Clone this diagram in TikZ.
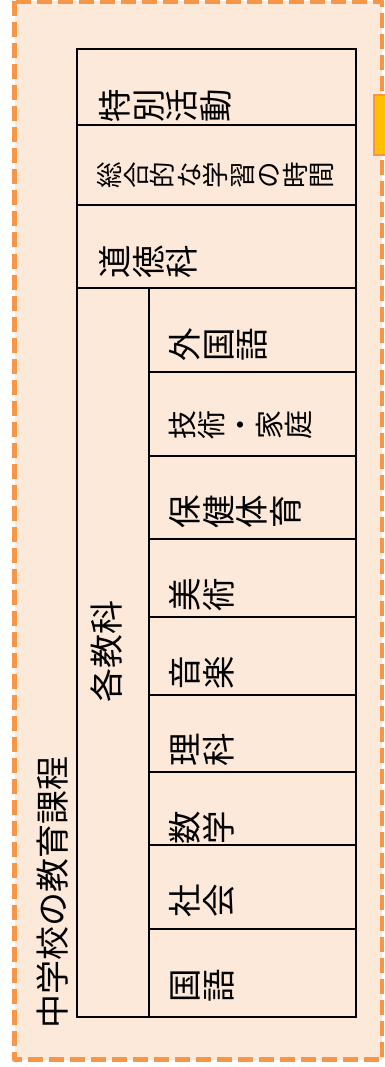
\documentclass[tikz,border=0pt]{standalone}
\usepackage{fontspec}
\usepackage{graphicx}
\newfontfamily\jp{Noto Sans CJK JP}
\definecolor{peach}{HTML}{FDE9D9}
\definecolor{dashorange}{HTML}{F79646}
\definecolor{tabyellow}{HTML}{FFC000}
\newcommand\rotglyph[1]{\rotatebox{90}{\rule[-0.12em]{0pt}{1em}#1}}
\def\rotrow#1{\rotrowA#1\relax}
\def\rotrowA#1{\ifx\relax#1\else\rotglyph{#1}\expandafter\rotrowA\fi}
\tikzset{
  tabline/.style={line width=1.7pt, black},
  lbl/.style={inner sep=0pt, anchor=west, font=\jp\fontsize{33.5}{33.5}\selectfont},
  vlbl/.style={inner sep=0pt, rotate=90, font=\jp\fontsize{34}{34}\selectfont},
}
\begin{document}
\begin{tikzpicture}[x=1pt,y=-1pt]
\useasboundingbox (0,0) rectangle (385,1067);
% outer dashed panel
\fill[peach] (14.5,1.5) rectangle (382,1059.5);
\draw[dashorange, line width=4.5pt, dash pattern=on 15pt off 6pt, line join=round] (14.5,1.5) rectangle (382,1059.5);
% small tab at right
\draw[fill=tabyellow, draw=dashorange, line width=2pt] (374,95) rectangle (400,155);
% table
\draw[tabline] (77,49) rectangle (356,1017);
\foreach \yy in {125,205,288} \draw[tabline] (77,\yy) -- (356,\yy);
\draw[tabline] (149,288) -- (149,1017);
\foreach \yy in {372,456,539,617,695,772,845,929} \draw[tabline] (149,\yy) -- (356,\yy);
% labels
\node[lbl] (tokubetsu) at (98,106) {\rotrow{特別活動}};
\node[lbl, font=\jp\fontsize{26.5}{26.5}\selectfont] (sogo) at (96,175) {\rotrow{総合的な学習の時間}};
\node[lbl] (dotoku) at (98,262) {\rotrow{道徳科}};
\node[lbl] (gaikoku) at (168,345) {\rotrow{外国語}};
\node[lbl, font=\jp\fontsize{29}{29}\selectfont] (gijutsu) at (168,425) {\rotrow{技術・家庭}};
\node[lbl] (hoken) at (168,512) {\rotrow{保健体育}};
\node[lbl] (bijutsu) at (168,595) {\rotrow{美術}};
\node[lbl] (ongaku) at (168,673) {\rotrow{音楽}};
\node[lbl] (rika) at (168,750) {\rotrow{理科}};
\node[lbl] (sugaku) at (168,828) {\rotrow{数学}};
\node[lbl] (shakai) at (168,901) {\rotrow{社会}};
\node[lbl] (kokugo) at (168,986) {\rotrow{国語}};
\node[vlbl] (kakukyoka) at (107,651) {各教科};
\node[vlbl] (title) at (53,892) {中学校の教育課程};
\end{tikzpicture}
\end{document}
